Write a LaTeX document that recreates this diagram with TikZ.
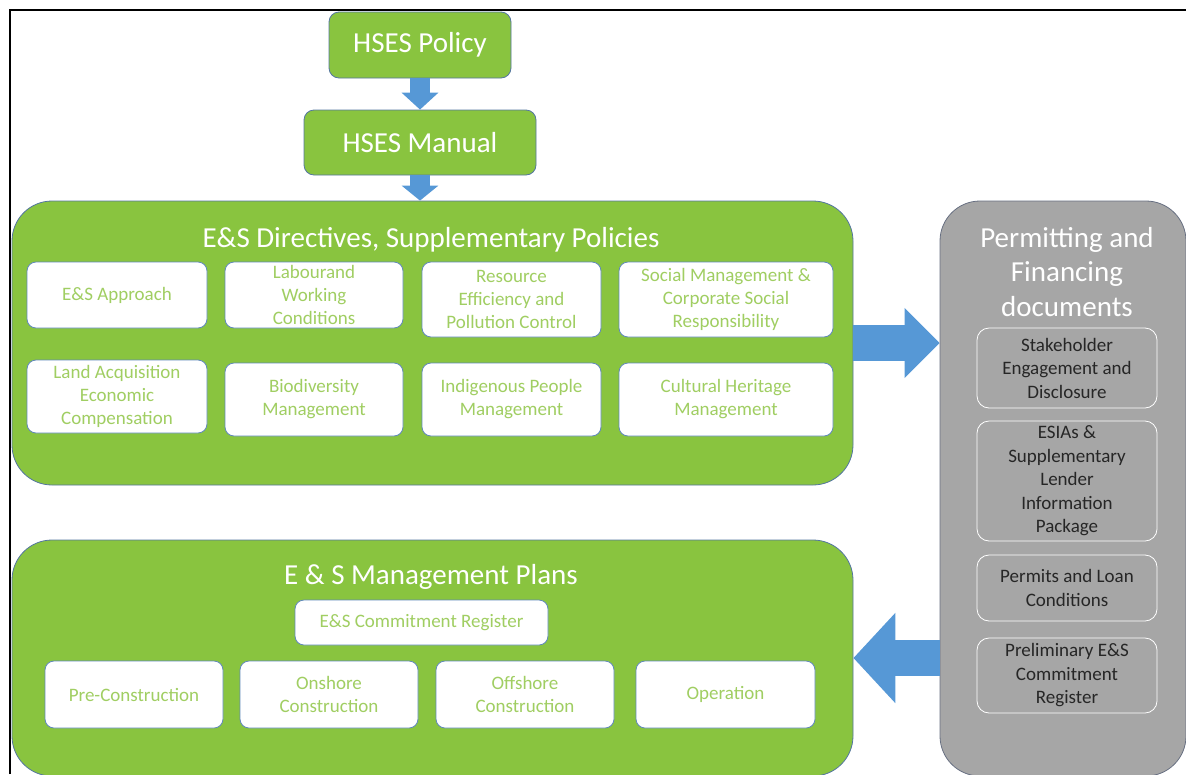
\documentclass[tikz,border=0pt]{standalone}
\usepackage{fontspec}
\setmainfont{Carlito}
\usetikzlibrary{arrows.meta}
\definecolor{hsesgreen}{RGB}{137,196,63}
\definecolor{boxline}{RGB}{84,118,160}
\definecolor{itemline}{RGB}{96,136,186}
\definecolor{itemtext}{RGB}{160,206,98}
\definecolor{docgray}{RGB}{166,166,166}
\definecolor{docline}{RGB}{104,112,130}
\definecolor{doctext}{RGB}{38,38,38}
\definecolor{arrowblue}{RGB}{86,152,214}

\begin{document}
\begin{tikzpicture}[x=1pt,y=-1pt,
    titlebox/.style={draw=boxline, fill=hsesgreen, rounded corners=10pt, line width=0.8pt,
      text=white, inner sep=0pt, font=\fontsize{29}{34}\selectfont},
    panel/.style={draw=boxline, fill=hsesgreen, rounded corners=40pt, line width=0.8pt, inner sep=0pt},
    docpanel/.style={draw=docline, fill=docgray, rounded corners=40pt, line width=0.8pt, inner sep=0pt},
    paneltitle/.style={text=white, align=center, font=\fontsize{29}{34.5}\selectfont},
    item/.style={draw=itemline, fill=white, rounded corners=9pt, line width=0.8pt, text=itemtext,
      align=center, inner sep=0pt, font=\fontsize{19}{23}\selectfont},
    docitem/.style={draw=white, fill=docgray, rounded corners=12pt, line width=0.8pt, text=doctext,
      align=center, inner sep=0pt, minimum width=180pt, font=\fontsize{19}{23.5}\selectfont},
    flow/.style={draw=arrowblue}]
    \useasboundingbox (0,0) rectangle (1186,774);
    \clip (0,0) rectangle (1186,774);
    \draw[line width=1.5pt] (10,774) -- (10,10) -- (1186,10);

    % top of the chain
    \node[titlebox, minimum width=182pt, minimum height=66pt] (policy) at (420,45) {HSES Policy};
    \node[titlebox, minimum width=232pt, minimum height=65pt] (manual) at (420,142.5) {HSES Manual};

    % directives panel
    \node[panel, minimum width=841pt, minimum height=284pt] (directives) at (432.5,343) {};
    \node[paneltitle] (dirtitle) at (431,240) {E\&S Directives, Supplementary Policies};
    \node[item, minimum width=180pt, minimum height=66pt] (approach) at (117,295) {E\&S Approach};
    \node[item, minimum width=178pt, minimum height=66pt] (labour) at (314,295) {Labourand\\Working\\Conditions};
    \node[item, minimum width=179pt, minimum height=75pt] (resource) at (511.5,299.5) {Resource\\Efficiency and\\Pollution Control};
    \node[item, minimum width=214pt, minimum height=75pt] (social) at (726,299.5) {Social Management \&\\Corporate Social\\Responsibility};
    \node[item, minimum width=180pt, minimum height=73pt] (land) at (117,396.5) {Land Acquisition\\Economic\\Compensation};
    \node[item, minimum width=178pt, minimum height=73pt] (biodiv) at (314,399.5) {Biodiversity\\Management};
    \node[item, minimum width=179pt, minimum height=73pt] (indigenous) at (511.5,399.5) {Indigenous People\\Management};
    \node[item, minimum width=214pt, minimum height=73pt] (heritage) at (726,399.5) {Cultural Heritage\\Management};

    % permitting and financing panel
    \node[docpanel, minimum width=246pt, minimum height=575pt] (permitting) at (1063,488.5) {};
    \node[paneltitle] (permtitle) at (1067,272) {Permitting and\\Financing\\documents};
    \node[docitem, minimum height=80pt] (stakeholder) at (1067,368) {Stakeholder\\Engagement and\\Disclosure};
    \node[docitem, minimum height=120pt] (esia) at (1067,481) {ESIAs \&\\Supplementary\\Lender\\Information\\Package};
    \node[docitem, minimum height=66pt] (permits) at (1067,588) {Permits and Loan\\Conditions};
    \node[docitem, minimum height=75pt] (prelim) at (1067,675.5) {Preliminary E\&S\\Commitment\\Register};

    % management plans panel
    \node[panel, minimum width=841pt, minimum height=236pt] (plans) at (432.5,658) {};
    \node[paneltitle] (plantitle) at (431,577) {E \& S Management Plans};
    \node[item, minimum width=253pt, minimum height=45pt] (register) at (421.5,622.5) {E\&S Commitment Register};
    \node[item, minimum width=178pt, minimum height=67pt] (precon) at (134,694.5) {Pre-Construction};
    \node[item, minimum width=178pt, minimum height=67pt] (onshore) at (329,694.5) {Onshore\\Construction};
    \node[item, minimum width=178pt, minimum height=67pt] (offshore) at (525,694.5) {Offshore\\Construction};
    \node[item, minimum width=179pt, minimum height=67pt] (operation) at (725.5,694.5) {Operation};

    % block arrows
    \draw[flow, line width=20pt, -{Triangle[width=36pt,length=17pt]}] (policy.south) -- (manual.north);
    \draw[flow, line width=20pt, -{Triangle[width=36pt,length=15pt]}] (manual.south) -- (manual.south |- directives.north);
    \draw[flow, line width=36pt, -{Triangle[width=68pt,length=35pt]}] (directives.east) -- (permitting.west |- directives.east);
    \draw[flow, line width=36pt, -{Triangle[width=88pt,length=42pt]}] (permitting.west |- plans.east) -- (plans.east);
\end{tikzpicture}
\end{document}
